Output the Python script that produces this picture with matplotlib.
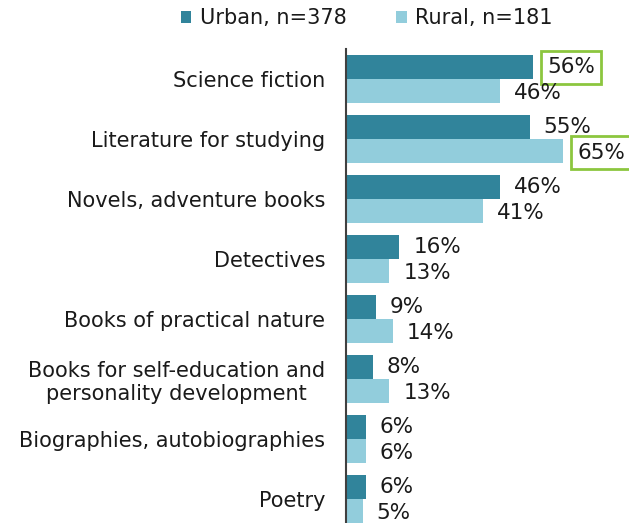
import matplotlib.pyplot as plt
import numpy as np

categories = [
    "Science fiction",
    "Literature for studying",
    "Novels, adventure books",
    "Detectives",
    "Books of practical nature",
    "Books for self-education and\npersonality development",
    "Biographies, autobiographies",
    "Poetry",
]
urban = [56, 55, 46, 16, 9, 8, 6, 6]
rural = [46, 65, 41, 13, 14, 13, 6, 5]
highlight_urban = [0]
highlight_rural = [1]

dark = "#31849B"
light = "#92CDDC"
green = "#8CC63F"
txt = "#1a1a1a"

fig = plt.figure(figsize=(6.29, 5.23), dpi=100)
ax = fig.add_axes([0.55, 0.0, 0.45, 0.906])

y = np.arange(len(categories))
h = 0.4
b1 = ax.barh(y - h / 2, urban, height=h, color=dark, label="Urban, n=378")
b2 = ax.barh(y + h / 2, rural, height=h, color=light, label="Rural, n=181")

fs = 15
lfs = 15.5
box_style = dict(boxstyle="square,pad=0.3", fc="white", ec=green, lw=2)
for i, v in enumerate(urban):
    box = box_style if i in highlight_urban else None
    ax.annotate(f"{v}%", (v, y[i] - h / 2), xytext=(10, 0), textcoords="offset points",
                va="center", ha="left", fontsize=lfs, color=txt, bbox=box)
for i, v in enumerate(rural):
    box = box_style if i in highlight_rural else None
    ax.annotate(f"{v}%", (v, y[i] + h / 2 + 0.03), xytext=(10, 0), textcoords="offset points",
                va="center", ha="left", fontsize=lfs, color=txt, bbox=box, annotation_clip=False)

ax.set_yticks(y)
ax.set_yticklabels(categories, fontsize=fs, color=txt, multialignment="center")
ax.tick_params(axis="y", length=0, pad=15)
ax.set_xticks([])
ax.set_xlim(0, 84.7)
ax.set_ylim(7.4, -0.5)
for s in ["top", "right", "bottom"]:
    ax.spines[s].set_visible(False)
ax.spines["left"].set_color("#404040")
ax.spines["left"].set_linewidth(1.5)

fig.legend(handles=[b1, b2], loc="center", bbox_to_anchor=(0.583, 0.965), ncol=2,
           frameon=False, fontsize=fs, handlelength=0.5, handleheight=0.5,
           handletextpad=0.4, columnspacing=2.4, labelcolor=txt)

fig.savefig("out.png", dpi=100)
